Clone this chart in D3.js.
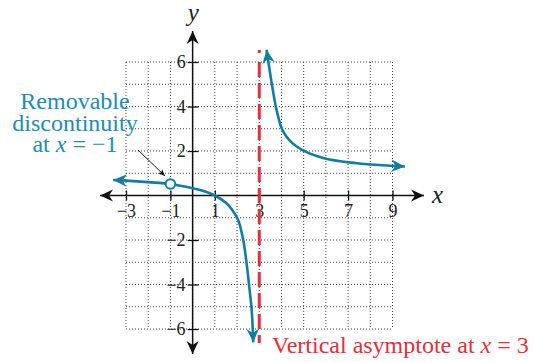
<!DOCTYPE html>
<html>
<head>
<meta charset="utf-8">
<script src="https://cdn.jsdelivr.net/npm/d3@7"></script>
<style>
  body { margin: 0; background: #fff; }
  text { font-family: "Liberation Serif", "DejaVu Serif", serif; }
</style>
</head>
<body>
<script>
const width = 534;
const height = 362;

// grid extent and tick labels
const gridX = d3.range(-3, 10);
const gridY = d3.range(-6, 7);
const xTicks = [-3, -1, 1, 3, 5, 7, 9];
const yTicks = [-6, -4, -2, 2, 4, 6];

// curve, two branches either side of x = 3
const leftX = [-3.58, -3, -2, -1, 0, 0.5, 1, 1.5, 1.8, 2.05, 2.28, 2.43, 2.55, 2.66, 2.73];
const leftY = [0.7, 0.67, 0.6, 0.52, 0.33, 0.2, 0, -0.33, -0.67, -1.1, -2.0, -3.05, -4.1, -5.16, -6.6];
const rightX = [3.33, 3.45, 3.56, 3.78, 4.08, 4.68, 5.88, 7.39, 8.89, 9.56];
const rightY = [6.55, 5.75, 5.05, 3.85, 2.87, 2.2, 1.68, 1.45, 1.34, 1.3];

const hole = { x: -1, y: 0.52 };
const asymptoteX = 3;

const curveColor = "#0f7ea2";
const noteColor = "#1e8db0";
const red = "#e2303d";

const x = d3.scaleLinear().domain([-3, 9]).range([126, 392.5]);
const y = d3.scaleLinear().domain([-6, 6]).range([329, 62]);

const svg = d3.select("body")
  .append("svg")
  .attr("width", width)
  .attr("height", height);

const defs = svg.append("defs");
const marker = (id, color, size) => {
  defs.append("marker")
    .attr("id", id)
    .attr("markerUnits", "userSpaceOnUse")
    .attr("viewBox", "-14 -7 16 14")
    .attr("refX", 0)
    .attr("refY", 0)
    .attr("markerWidth", 16 * size)
    .attr("markerHeight", 14 * size)
    .attr("orient", "auto-start-reverse")
    .append("path")
    .attr("d", "M0,0 L-13,-6 L-9,0 L-13,6 Z")
    .attr("fill", color);
};
marker("arr-axis", "#111", 1);
marker("arr-curve", curveColor, 1.05);
defs.append("marker")
  .attr("id", "arr-note")
  .attr("markerUnits", "userSpaceOnUse")
  .attr("viewBox", "-8 -4 9 8")
  .attr("markerWidth", 9)
  .attr("markerHeight", 8)
  .attr("orient", "auto")
  .append("path")
  .attr("d", "M0,0 L-7,-3 L-5,0 L-7,3 Z")
  .attr("fill", "#111");

// dotted grid
const grid = svg.append("g")
  .attr("stroke", "#444")
  .attr("stroke-width", 1)
  .attr("stroke-dasharray", "1,2");
grid.selectAll("line.v")
  .data(gridX)
  .join("line")
  .attr("class", "v")
  .attr("x1", (d) => x(d))
  .attr("x2", (d) => x(d))
  .attr("y1", y(6))
  .attr("y2", y(-6));
grid.selectAll("line.h")
  .data(gridY)
  .join("line")
  .attr("class", "h")
  .attr("x1", x(-3))
  .attr("x2", x(9))
  .attr("y1", (d) => y(d))
  .attr("y2", (d) => y(d));

// axes
const fmt = (d) => (d < 0 ? "\u2212" + Math.abs(d) : String(d));

const xAxis = svg.append("g")
  .attr("transform", `translate(0,${y(0)})`)
  .call(d3.axisBottom(x).tickValues(xTicks).tickFormat(fmt).tickSize(5).tickPadding(4));
xAxis.select(".domain").remove();
xAxis.selectAll(".tick line").attr("y1", -5).attr("stroke", "#111").attr("stroke-width", 1.3);
xAxis.selectAll(".tick text")
  .attr("font-size", 18)
  .attr("fill", "#222");

const yAxis = svg.append("g")
  .attr("transform", `translate(${x(0)},0)`)
  .call(d3.axisLeft(y).tickValues(yTicks).tickFormat(fmt).tickSize(5).tickPadding(2));
yAxis.select(".domain").remove();
yAxis.selectAll(".tick line").attr("x1", 6).attr("stroke", "#111").attr("stroke-width", 1.3);
yAxis.selectAll(".tick text")
  .attr("font-size", 18)
  .attr("fill", "#222");

svg.append("line")
  .attr("x1", 100).attr("x2", 424)
  .attr("y1", y(0)).attr("y2", y(0))
  .attr("stroke", "#111").attr("stroke-width", 1.5)
  .attr("marker-start", "url(#arr-axis)")
  .attr("marker-end", "url(#arr-axis)");
svg.append("line")
  .attr("x1", x(0)).attr("x2", x(0))
  .attr("y1", 31).attr("y2", 354)
  .attr("stroke", "#111").attr("stroke-width", 1.5)
  .attr("marker-start", "url(#arr-axis)")
  .attr("marker-end", "url(#arr-axis)");

svg.append("text")
  .attr("x", 432).attr("y", y(0) + 7)
  .attr("font-size", 25).attr("font-style", "italic")
  .attr("fill", "#222")
  .text("x");
svg.append("text")
  .attr("x", x(0) - 5).attr("y", 21)
  .attr("font-size", 25).attr("font-style", "italic")
  .attr("fill", "#222")
  .text("y");

// vertical asymptote
svg.append("line")
  .attr("x1", x(asymptoteX)).attr("x2", x(asymptoteX))
  .attr("y1", 50).attr("y2", 343)
  .attr("stroke", red)
  .attr("stroke-width", 3)
  .attr("stroke-dasharray", "3,9,15,6,15,6,15,6,15,6,15,6,15,6,15,6,15,6,15,6,15,6,15,6,15,6,15,6,15,6");

// curve branches
const line = d3.line()
  .x((d) => x(d[0]))
  .y((d) => y(d[1]))
  .curve(d3.curveCatmullRom.alpha(0.5));

const branches = [
  d3.zip(leftX, leftY),
  d3.zip(rightX, rightY)
];
svg.append("g")
  .selectAll("path")
  .data(branches)
  .join("path")
  .attr("d", line)
  .attr("fill", "none")
  .attr("stroke", curveColor)
  .attr("stroke-width", 2.6)
  .attr("marker-start", "url(#arr-curve)")
  .attr("marker-end", "url(#arr-curve)");

// removable discontinuity
svg.append("circle")
  .attr("cx", x(hole.x))
  .attr("cy", y(hole.y))
  .attr("r", 4.8)
  .attr("fill", "#fff")
  .attr("stroke", curveColor)
  .attr("stroke-width", 2);

svg.append("line")
  .attr("x1", 138).attr("y1", 150)
  .attr("x2", 165).attr("y2", 176)
  .attr("stroke", "#111")
  .attr("stroke-width", 1)
  .attr("marker-end", "url(#arr-note)");

const noteLines = ["Removable", "discontinuity"];
svg.append("g")
  .selectAll("text")
  .data(noteLines)
  .join("text")
  .attr("x", 75)
  .attr("y", (d, i) => 109 + i * 21.5)
  .attr("text-anchor", "middle")
  .attr("font-size", 24)
  .attr("fill", noteColor)
  .text((d) => d);
const l3 = svg.append("text")
  .attr("x", 75).attr("y", 152)
  .attr("text-anchor", "middle")
  .attr("font-size", 24)
  .attr("fill", noteColor);
l3.append("tspan").text("at ");
l3.append("tspan").attr("font-style", "italic").text("x");
l3.append("tspan").text(" = \u22121");

const va = svg.append("text")
  .attr("x", 272).attr("y", 353)
  .attr("font-size", 24)
  .attr("fill", red);
va.append("tspan").text("Vertical asymptote at ");
va.append("tspan").attr("font-style", "italic").text("x");
va.append("tspan").text(" = 3");
</script>
</body>
</html>
